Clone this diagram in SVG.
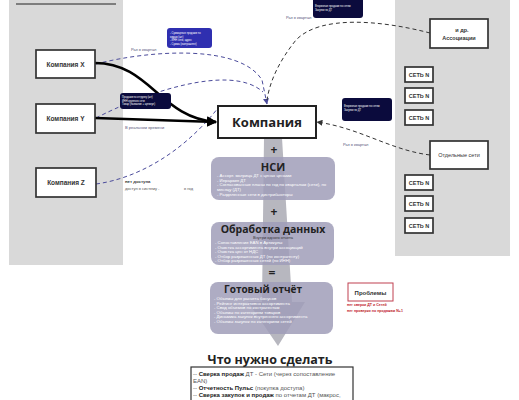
<svg xmlns="http://www.w3.org/2000/svg" width="519" height="400" viewBox="0 0 519 400">
<defs>
<style>
.panel{fill:#d9d9d9}
.box{fill:#fff;stroke:#333;stroke-width:1.7}
.lbl{font-family:"Liberation Sans",Arial,sans-serif;font-size:6.5px;font-weight:bold;fill:#333;text-anchor:middle}
.net{font-family:"Liberation Sans",Arial,sans-serif;font-size:5.5px;font-weight:bold;fill:#333;text-anchor:middle}
.navy{fill:#0b0b3d}
.blue{fill:#2f2fb0}
.ct{font-family:"Liberation Sans",Arial,sans-serif;font-size:2.6px;fill:#fff}
.note{font-family:"Liberation Sans",Arial,sans-serif;font-size:4px;fill:#55557a}
.gbox{fill:#a09eb8;fill-opacity:0.85}
.gt{font-family:"Open Sans","Liberation Sans",sans-serif;font-weight:bold;fill:#222;text-anchor:middle}
.wt{font-family:"Liberation Sans",Arial,sans-serif;font-size:4.3px;fill:#fff}
.dash{fill:none;stroke:#4b4b9b;stroke-width:1;stroke-dasharray:4,3}
.dashk{fill:none;stroke:#333;stroke-width:1;stroke-dasharray:4,3}
.thick{fill:none;stroke:#000;stroke-width:2.5}
.sym{font-family:"Open Sans","Liberation Sans",sans-serif;font-weight:bold;font-size:12px;fill:#222;text-anchor:middle}
.red{font-family:"Liberation Sans",Arial,sans-serif;font-size:3.6px;fill:#c0202a;font-weight:bold}
.todo{font-family:"Liberation Sans",Arial,sans-serif;font-size:6px;fill:#555}
</style>
<marker id="ak" viewBox="0 0 10 10" refX="9" refY="5" markerWidth="4" markerHeight="4" orient="auto" markerUnits="strokeWidth"><path d="M0,0L10,5L0,10z" fill="#000"/></marker>
<marker id="ab" viewBox="0 0 10 10" refX="9" refY="5" markerWidth="6" markerHeight="6" orient="auto" markerUnits="strokeWidth"><path d="M0,0L10,5L0,10z" fill="#4b4b9b"/></marker>
<marker id="ad" viewBox="0 0 10 10" refX="9" refY="5" markerWidth="6" markerHeight="6" orient="auto" markerUnits="strokeWidth"><path d="M0,0L10,5L0,10z" fill="#333"/></marker>
</defs>
<rect width="519" height="400" fill="#fff"/>
<rect class="panel" x="9" y="0" width="114" height="265"/>
<rect class="panel" x="395" y="0" width="115" height="256"/>
<line x1="16" y1="4" x2="116" y2="4" stroke="#222" stroke-width="1"/>

<!-- big gray arrow -->
<path d="M264,138 L282,138 L292,302 L305,302 L278,346 L248,302 L262,302 Z" fill="#9898a4" fill-opacity="0.7"/>

<g id="connectors">
<path class="dash" d="M96,64 C150,50 240,44 262,80 L267,104" marker-end="url(#ab)"/>
<path class="dash" d="M96,118 C140,95 230,62 263,92"/>
<path class="dash" d="M96,184 C140,178 185,150 218,108"/>
<path class="dashk" d="M430,33 C380,20 320,15 296,40 C280,60 270,80 267,100"/>
<path class="dashk" d="M430,155 C390,150 360,128 317,122" marker-end="url(#ad)"/>
<path class="thick" d="M95,63 C150,63 160,118 216,122" marker-end="url(#ak)"/>
<path class="thick" d="M95,118 L216,122" marker-end="url(#ak)"/>
</g>

<g id="companyX"><rect class="box" x="36" y="50" width="59" height="28"/><text class="lbl" x="65.5" y="66.5">Компания X</text></g>
<g id="companyY"><rect class="box" x="36" y="104" width="59" height="29"/><text class="lbl" x="65.5" y="121">Компания Y</text></g>
<g id="companyZ"><rect class="box" x="36" y="168" width="60" height="29"/><text class="lbl" x="66" y="185">Компания Z</text></g>
<g id="company"><rect x="218" y="106" width="98" height="32" fill="#fff" stroke="#222" stroke-width="2"/><text class="gt" x="267" y="127" font-size="13">Компания</text></g>

<g id="assoc"><rect class="box" x="430" y="19" width="58" height="29"/><text class="net" x="462" y="31.5">и др.</text><text class="net" x="459" y="40">Ассоциации</text></g>
<g id="set1"><rect class="box" x="405" y="67" width="28" height="15"/><text class="net" x="419" y="76.5">СЕТЬ N</text></g>
<g id="set2"><rect class="box" x="405" y="88" width="28" height="15"/><text class="net" x="419" y="97.5">СЕТЬ N</text></g>
<g id="set3"><rect class="box" x="405" y="110" width="28" height="15"/><text class="net" x="419" y="119.5">СЕТЬ N</text></g>
<g id="separate"><rect class="box" x="430" y="141" width="58" height="28"/><text class="net" x="459" y="157" style="font-weight:normal">Отдельные сети</text></g>
<g id="set4"><rect class="box" x="405" y="175" width="28" height="15"/><text class="net" x="419" y="184.5">СЕТЬ N</text></g>
<g id="set5"><rect class="box" x="405" y="196" width="28" height="15"/><text class="net" x="419" y="205.5">СЕТЬ N</text></g>
<g id="set6"><rect class="box" x="405" y="218" width="28" height="15"/><text class="net" x="419" y="227.5">СЕТЬ N</text></g>

<g id="call1"><rect class="blue" x="167" y="28" width="45" height="20" rx="3"/>
<text class="ct" x="170" y="34">- Суммарные продажи по</text><text class="ct" x="170" y="37.5">видам (шт)</text><text class="ct" x="170" y="41">- ИНН сети, адрес</text><text class="ct" x="170" y="44.5">- Сумма (завтрашняя)</text></g>
<g id="call2"><rect class="navy" x="120" y="93" width="51" height="16" rx="3"/>
<text class="ct" x="122" y="98">Продажи по отгрузку (шт)</text><text class="ct" x="122" y="101.5">ИНН крупного сети</text><text class="ct" x="122" y="105">Товар (название + артикул)</text></g>
<g id="call3"><rect class="navy" x="313" y="-4" width="50" height="22" rx="3"/>
<text class="ct" x="315" y="7">Вторичные продажи по сетям</text><text class="ct" x="315" y="10.5">Закупки по ДТ</text></g>
<g id="call4"><rect class="navy" x="342" y="98" width="50" height="23" rx="3"/>
<text class="ct" x="344" y="107">Вторичные продажи по сетям</text><text class="ct" x="344" y="110.5">Закупки по ДТ</text></g>

<text class="note" x="131" y="51">Раз в квартал</text>
<text class="note" x="286" y="19">Раз в квартал</text>
<text class="note" x="343" y="146">Раз в квартал</text>
<text class="note" x="125" y="129">В реальном времени</text>
<text x="125" y="183" font-family="Liberation Sans,Arial,sans-serif" font-size="4.3px" font-weight="bold" fill="#333">нет доступа</text>
<text class="note" x="125" y="190" style="fill:#555">доступ в систему -</text>
<text class="note" x="184" y="190" style="fill:#555">в год</text>

<text class="sym" x="274" y="154">+</text>
<g id="nsi"><rect class="gbox" x="211" y="157" width="124" height="43" rx="8"/>
<text class="gt" x="273" y="171" font-size="11">НСИ</text>
<text class="wt" x="217" y="177">- Ассорт. матрица ДТ с ценах ценами</text>
<text class="wt" x="217" y="181.5">- Иерархия ДТ</text>
<text class="wt" x="217" y="186">- Согласованные планы по год по кварталам (сети), по</text>
<text class="wt" x="217" y="190.5">месяцу (ДТ)</text>
<text class="wt" x="217" y="195.5">- Разделенные сети в дистрибьюторы</text></g>

<text class="sym" x="274" y="216">+</text>
<g id="proc"><rect class="gbox" x="211" y="222" width="123" height="43" rx="8"/>
<text class="gt" x="273" y="233" font-size="10.5">Обработка данных</text>
<text x="273" y="238.5" font-family="Liberation Sans,Arial,sans-serif" font-size="4px" fill="#333" text-anchor="middle">Внутри одного отчета</text>
<text class="wt" x="215" y="244">- Сопоставление EAN в Артикулы</text>
<text class="wt" x="215" y="248.5">- Очистка ассортимента внутри ассоциаций</text>
<text class="wt" x="215" y="253">- Очистка цен от НДС</text>
<text class="wt" x="215" y="257.5">- Отбор разрешенных ДТ (по контрагенту)</text>
<text class="wt" x="215" y="262">- Отбор разрешенных сетей (по ИНН)</text></g>

<text class="sym" x="272" y="277">=</text>
<g id="report"><rect class="gbox" x="210" y="282" width="123" height="52" rx="8"/>
<text class="gt" x="263" y="292.5" font-size="10">Готовый отчёт</text>
<text class="wt" x="214" y="300">- Объемы для расчета бонусов</text>
<text class="wt" x="214" y="304.5">- Рейтинг интерактивно ассортимента</text>
<text class="wt" x="214" y="309">- Свод объемов по контрагентам</text>
<text class="wt" x="214" y="313.5">- Объемы по категориям товаров</text>
<text class="wt" x="214" y="318">- Динамика закупок внутреннего ассортимента</text>
<text class="wt" x="214" y="322.5">- Объемы закупок по категориям сетей</text></g>

<g id="problems"><rect x="348" y="283" width="45" height="18" fill="#fff" stroke="#c04050" stroke-width="1"/>
<text x="370.5" y="294.5" font-family="Liberation Sans,Arial,sans-serif" font-size="6px" font-weight="bold" fill="#333" text-anchor="middle">Проблемы</text>
<text class="red" x="347" y="306">нет сверки ДТ и Сетей</text>
<text class="red" x="347" y="312">нет проверки по продажам N+1</text></g>

<text x="270" y="364" font-family="Open Sans,Liberation Sans,sans-serif" font-size="12.5px" font-weight="bold" fill="#222" text-anchor="middle">Что нужно сделать</text>
<g id="todo"><rect x="191" y="367" width="162" height="40" fill="#fff" stroke="#333" stroke-width="1.2"/>
<text class="todo" x="193" y="376">-- <tspan font-weight="bold" fill="#222">Сверка продаж</tspan> ДТ - Сети (через сопоставление</text>
<text class="todo" x="193" y="382.5">EAN)</text>
<text class="todo" x="193" y="389.5">-- <tspan font-weight="bold" fill="#222">Отчетность Пульс</tspan> (покупка доступа)</text>
<text class="todo" x="193" y="396.5">-- <tspan font-weight="bold" fill="#222">Сверка закупок и продаж</tspan> по отчетам ДТ (макрос,</text></g>
</svg>
